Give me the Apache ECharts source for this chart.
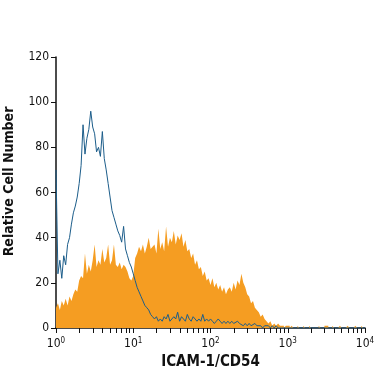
<!DOCTYPE html>
<html>
<head>
<meta charset="utf-8">
<script src="https://cdn.jsdelivr.net/npm/echarts@6/dist/echarts.min.js"></script>
<style>
  html, body { margin: 0; padding: 0; background: #fff; }
  #main { width: 375px; height: 375px; }
</style>
</head>
<body>
<div id="main"></div>
<script>
// histogram channels: each bin is 0.025 decade wide, starting at 10^0
var binWidth = 0.025;

// ICAM-1/CD54 stained cells (orange, filled)
var stained = [
  9, 11, 8, 12, 10, 13, 10, 14, 12, 15,
  17, 16, 21, 23, 22, 33, 24, 28, 25, 30,
  37, 27, 30, 28, 35, 29, 31, 37, 28, 30,
  37, 28, 27, 29, 26, 28, 27, 25, 22, 21,
  23, 31, 33, 36, 34, 37, 33, 36, 40, 35,
  36, 37, 33, 44, 35, 38, 34, 45, 36, 40,
  38, 43, 37, 41, 39, 42, 36, 39, 34, 35,
  31, 33, 28, 30, 26, 27, 23, 25, 21, 22,
  19, 22, 18, 20, 17, 19, 16, 18, 15, 17,
  18, 16, 20, 17, 21, 19, 24, 20, 18, 15,
  14, 11, 12, 9, 8, 7, 5, 6, 4, 3,
  2, 3, 1, 2, 1, 2, 1, 1, 0, 1,
  1, 0, 1, 0, 0, 1, 0, 0, 1, 0,
  0, 1, 0, 0, 0, 0, 1, 0, 0, 1,
  1, 0, 0, 1, 0, 0, 0, 1, 0, 0,
  0, 1, 0, 0, 0, 1, 0, 0, 1, 0
];

// isotype control (blue line)
var control = [
  70, 24, 30, 22, 32, 28, 37, 40, 46, 51,
  54, 58, 64, 72, 90, 77, 84, 88, 96, 89,
  86, 78, 80, 76, 87, 75, 70, 64, 58, 52,
  49, 46, 43, 41, 38, 45, 35, 32, 29, 27,
  24, 21, 18, 16, 14, 12, 10, 9, 8, 6,
  5, 4, 5, 3, 4, 3, 5, 4, 6, 3,
  3, 5, 4, 7, 3, 5, 4, 3, 6, 4,
  3, 5, 4, 3, 4, 3, 6, 3, 4, 3,
  4, 3, 2, 3, 4, 3, 2, 3, 2, 3,
  2, 3, 2, 2, 3, 2, 2, 1, 2, 1,
  2, 1, 1, 2, 1, 1, 1, 0, 1, 1,
  1, 0, 1, 0, 1, 0, 0, 0, 0, 0,
  0, 0, 0, 0, 0, 0, 0, 0, 0, 0,
  0, 0, 0, 0, 0, 0, 0, 0, 0, 0,
  0, 0, 0, 0, 0, 0, 0, 0, 0, 0,
  0, 0, 0, 0, 0, 0, 0, 0, 0, 0
];

var decades = [0, 1, 2, 3, 4];

var fontFam = '"Liberation Sans Narrow", "DejaVu Sans Condensed", sans-serif';

function toPoints(arr) {
    var pts = arr.map(function (v, i) { return [i * binWidth, v]; });
    pts.push([arr.length * binWidth, arr[arr.length - 1]]);
    return pts;
}

// tick positions of a log axis (1..9 within each decade)
var tickPos = [];
decades.forEach(function (d) {
    tickPos.push(d);
    if (d < 4) {
        for (var k = 2; k <= 9; k++) tickPos.push(d + Math.log10(k));
    }
});

var myChart = echarts.init(document.getElementById('main'));
var option;

option = {
    animation: false,
    grid: {
        left: 56,
        right: 10,
        top: 57,
        bottom: 47,
        outerBoundsMode: 'none'
    },
    xAxis: {
        type: 'value',
        min: 0,
        max: 4,
        name: 'ICAM-1/CD54',
        nameLocation: 'middle',
        nameGap: 26,
        nameTextStyle: {
            fontFamily: fontFam,
            fontSize: 15,
            fontWeight: 'bold',
            color: '#111'
        },
        axisLine: { lineStyle: { color: '#111', width: 1.5 } },
        axisTick: {
            show: true,
            length: 5,
            customValues: tickPos,
            lineStyle: { color: '#111' }
        },
        splitLine: { show: false },
        axisLabel: {
            customValues: decades,
            margin: 9,
            formatter: function (v) {
                return '{b|10}{s|' + Math.round(v) + '}';
            },
            rich: {
                b: { fontFamily: fontFam, fontSize: 12, color: '#111' },
                s: { fontFamily: fontFam, fontSize: 8, color: '#111', verticalAlign: 'top', padding: [0, 0, 6, 0] }
            }
        }
    },
    yAxis: {
        type: 'value',
        min: 0,
        max: 120,
        interval: 20,
        name: 'Relative Cell Number',
        nameLocation: 'middle',
        nameGap: 40,
        nameTextStyle: {
            fontFamily: fontFam,
            fontSize: 14,
            fontWeight: 'bold',
            color: '#111',
            padding: [0, 0, 0, 22]
        },
        axisLine: { show: true, lineStyle: { color: '#111', width: 1.5 } },
        axisTick: { show: true, length: 5, lineStyle: { color: '#111' } },
        splitLine: { show: false },
        axisLabel: {
            fontFamily: fontFam,
            fontSize: 12,
            color: '#111',
            margin: 7
        }
    },
    series: [
        {
            name: 'ICAM-1/CD54',
            type: 'line',
            step: 'end',
            showSymbol: false,
            lineStyle: { width: 0 },
            areaStyle: { color: '#f59d22', opacity: 1 },
            data: toPoints(stained),
            z: 2
        },
        {
            name: 'Isotype control',
            type: 'line',
            showSymbol: false,
            lineStyle: { width: 1, color: '#1c5d8a' },
            data: toPoints(control),
            z: 3
        }
    ]
};
option && myChart.setOption(option);
</script>
</body>
</html>
